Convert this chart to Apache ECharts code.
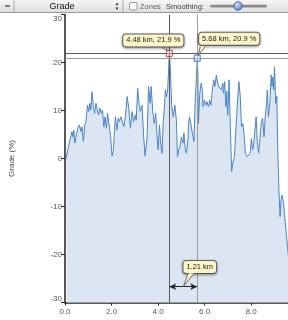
<!DOCTYPE html>
<html>
<head>
<meta charset="utf-8">
<script src="https://cdn.jsdelivr.net/npm/echarts@6/dist/echarts.min.js"></script>
<style>
  html, body { margin: 0; padding: 0; background: #fff; }
  #chart { width: 288px; height: 320px; }
</style>
</head>
<body>
<div id="chart"></div>
<script>
// distance along the route (km) and grade (%)
const km = [
  0.05, 0.08, 0.13, 0.17, 0.22, 0.30, 0.34, 0.38, 0.42, 0.48, 0.55, 0.62, 0.69, 0.73, 0.79, 0.85,
  0.90, 0.97, 1.02, 1.07, 1.11, 1.16, 1.22, 1.27, 1.33, 1.39, 1.44, 1.50, 1.56, 1.61, 1.67, 1.72,
  1.78, 1.83, 1.89, 1.96, 2.02, 2.08, 2.13, 2.17, 2.23, 2.29, 2.34, 2.40, 2.46, 2.53, 2.60, 2.67,
  2.74, 2.81, 2.88, 2.95, 3.02, 3.06, 3.12, 3.19, 3.23, 3.31, 3.38, 3.44, 3.52, 3.59, 3.66, 3.70,
  3.77, 3.83, 3.90, 3.94, 4.00, 4.06, 4.11, 4.17, 4.22, 4.27, 4.31, 4.36, 4.41, 4.45, 4.48, 4.53,
  4.58, 4.65, 4.72, 4.79, 4.83, 4.89, 4.94, 5.00, 5.07, 5.11, 5.17, 5.22, 5.28, 5.31, 5.35, 5.39,
  5.45, 5.50, 5.54, 5.59, 5.64, 5.68, 5.71, 5.73, 5.79, 5.85, 5.89, 5.93, 5.99, 6.05, 6.10, 6.16,
  6.22, 6.27, 6.33, 6.39, 6.44, 6.50, 6.56, 6.61, 6.67, 6.72, 6.78, 6.81, 6.86, 6.91, 6.95, 6.99,
  7.05, 7.11, 7.16, 7.22, 7.28, 7.33, 7.40, 7.47, 7.53, 7.58, 7.64, 7.70, 7.75, 7.83, 7.89, 7.95,
  8.01, 8.06, 8.11, 8.15, 8.21, 8.26, 8.32, 8.38, 8.43, 8.49, 8.55, 8.60, 8.66, 8.69, 8.74, 8.80,
  8.86, 8.89, 8.93, 8.97, 9.00, 9.03, 9.05, 9.10, 9.14, 9.19, 9.24, 9.28, 9.33, 9.39, 9.45, 9.50,
  9.56, 9.62
];
const grade = [
  0.0, 0.4, 2.1, 1.8, 3.9, 5.6, 4.5, 5.9, 3.2, 3.0, 6.3, 7.0, 5.6, 6.6, 3.5, 7.0,
  7.7, 11.1, 9.8, 11.5, 10.1, 13.9, 10.8, 9.4, 11.5, 10.1, 9.1, 10.5, 9.4, 10.1, 6.6, 8.7,
  6.3, 9.4, 9.8, 4.5, 0.5, 1.8, 6.6, 8.7, 5.9, 8.4, 7.7, 8.7, 8.4, 6.6, 9.1, 12.9,
  10.5, 6.3, 9.8, 7.7, 9.1, 8.0, 14.6, 11.1, 9.8, 11.1, 4.5, 0.5, 3.9, 15.0, 11.5, 15.0,
  9.8, 7.3, 9.4, 5.6, 1.8, 7.0, 3.2, 1.1, 7.7, 10.5, 14.3, 12.9, 14.3, 18.4, 21.9, 18.4,
  11.1, 8.7, 11.1, 7.7, 0.4, 1.8, 2.5, 4.5, 3.2, 5.3, 1.8, 1.1, 3.9, 7.3, 8.7, 7.7,
  5.9, 5.6, 3.5, 11.5, 16.4, 20.9, 17.7, 7.3, 13.6, 15.7, 14.6, 10.8, 12.2, 11.1, 11.8, 10.8,
  12.2, 11.1, 14.3, 16.4, 15.0, 17.4, 15.7, 15.0, 15.3, 14.3, 15.7, 13.6, 16.0, 10.8, 14.0, 9.0,
  16.4, 5.3, -2.7, -0.7, 0.4, 5.3, 11.1, 16.0, 12.9, 6.6, 7.3, 4.5, 1.1, 0.4, 0.0, 1.1,
  4.2, 1.8, 3.2, 5.3, 8.7, 3.5, 1.1, 1.4, 7.3, 8.4, 4.5, 8.7, 11.5, 14.3, 8.7, 11.5,
  17.4, 15.0, 17.0, 14.3, 19.1, 15.0, 11.5, 12.9, 1.8, -6.6, -12.1, -8.6, -7.6, -9.3, -12.8, -15.2,
  -18.4, -21.5
];

// the two marked points and the span between them
const markA = [4.48, 21.9];
const markB = [5.68, 20.9];
const spanY = -26.7;
const labelA = '4.48 km, 21.9 %';
const labelB = '5.68 km, 20.9 %';
const spanLabel = '1.21 km';

const xTicks = { min: 0, max: 9.58, interval: 2 };
const yTicks = { min: -30, max: 30, interval: 10 };

const font = 'Liberation Sans, Arial, sans-serif';
const tipBox = {
  show: true,
  fontFamily: font,
  fontSize: 7.5,
  color: '#222',
  backgroundColor: '#fdf5c8',
  borderColor: '#666',
  borderWidth: 1,
  borderRadius: 3,
  padding: [2, 3, 2, 3],
  shadowColor: 'rgba(0,0,0,0.35)',
  shadowBlur: 3,
  shadowOffsetY: 1,
};

const chart = echarts.init(document.getElementById('chart'), null, { renderer: 'canvas' });

const option = {
  animation: false,
  backgroundColor: '#fff',
  grid: { left: 62, right: 0, top: 14.5, bottom: 17.5 },
  xAxis: {
    type: 'value',
    min: xTicks.min,
    max: xTicks.max,
    interval: xTicks.interval,
    axisLine: { onZero: false, lineStyle: { color: '#222', width: 1.5 } },
    axisTick: { show: true, length: 3, lineStyle: { color: '#222' } },
    axisLabel: {
      showMaxLabel: false,
      margin: 5,
      fontFamily: font,
      fontSize: 8,
      color: '#555',
      formatter: (v) => v.toFixed(1),
    },
    splitLine: { show: false },
  },
  yAxis: {
    type: 'value',
    min: yTicks.min,
    max: yTicks.max,
    interval: yTicks.interval,
    name: 'Grade (%)',
    nameLocation: 'middle',
    nameGap: 49,
    nameTextStyle: { fontFamily: font, fontSize: 8, color: '#444' },
    axisLine: { show: true, onZero: false, lineStyle: { color: '#222', width: 1.5 } },
    axisTick: { show: true, length: 4, lineStyle: { color: '#222' } },
    axisLabel: {
      margin: 3,
      fontFamily: font,
      fontSize: 8,
      color: '#555',
      verticalAlignMaxLabel: 'top',
      verticalAlignMinLabel: 'bottom',
    },
    splitLine: { show: false },
  },
  series: [
    {
      type: 'line',
      data: km.map((k, i) => [k, grade[i]]),
      showSymbol: false,
      clip: true,
      lineStyle: { color: '#4a85c6', width: 1 },
      areaStyle: { color: '#dce6f2', origin: 'start', opacity: 1 },
      markLine: {
        silent: true,
        animation: false,
        symbol: ['none', 'none'],
        label: { show: false },
        data: [
          { xAxis: markA[0], lineStyle: { color: '#5a5a5a', width: 1, type: 'solid' } },
          { xAxis: markB[0], lineStyle: { color: '#9a9a9a', width: 1, type: 'solid' } },
          { yAxis: markA[1], lineStyle: { color: '#5a5a5a', width: 1, type: 'solid' } },
          { yAxis: markB[1], lineStyle: { color: '#9a9a9a', width: 1, type: 'solid' } },
          [
            { coord: [markA[0], spanY], symbol: 'arrow', symbolSize: [5, 7] },
            { coord: [markB[0], spanY], symbol: 'arrow', symbolSize: [5, 7],
              lineStyle: { color: '#222', width: 1, type: 'solid' } },
          ],
        ],
      },
      markPoint: {
        silent: true,
        animation: false,
        data: [
          {
            coord: markA,
            symbol: 'rect',
            symbolSize: 6,
            itemStyle: { color: 'rgba(255,255,255,0.3)', borderColor: '#d04040', borderWidth: 1 },
            label: Object.assign({}, tipBox, { formatter: labelA, position: 'top', distance: 2, offset: [-16, -1.5] }),
          },
          {
            coord: markB,
            symbol: 'rect',
            symbolSize: 6,
            itemStyle: { color: 'rgba(255,255,255,0.3)', borderColor: '#3d6fd8', borderWidth: 1 },
            label: Object.assign({}, tipBox, { formatter: labelB, position: 'top', distance: 2, offset: [32, -8] }),
          },
          {
            coord: [(markA[0] + markB[0]) / 2, spanY],
            symbol: 'circle',
            symbolSize: 0.1,
            itemStyle: { color: 'transparent' },
            label: Object.assign({}, tipBox, { formatter: spanLabel, position: 'top', distance: 0, offset: [16.5, -13.5] }),
          },
        ],
      },
    },
  ],
  graphic: [
    // toolbar across the top
    {
      type: 'rect', id: 'bar', z: 100,
      shape: { x: 0, y: 0, width: 288, height: 12.5 },
      style: {
        fill: new echarts.graphic.LinearGradient(0, 0, 0, 1, [
          { offset: 0, color: '#f6f6f6' }, { offset: 1, color: '#dedede' },
        ]),
      },
    },
    { type: 'line', id: 'barEdge', z: 101, shape: { x1: 0, y1: 12.5, x2: 288, y2: 12.5 }, style: { stroke: '#999', lineWidth: 1 } },
    { type: 'line', id: 'sep1', z: 101, shape: { x1: 14, y1: 0, x2: 14, y2: 12.5 }, style: { stroke: '#aaa', lineWidth: 1 } },
    { type: 'line', id: 'sep2', z: 101, shape: { x1: 123, y1: 0, x2: 123, y2: 12.5 }, style: { stroke: '#aaa', lineWidth: 1 } },
    { type: 'line', id: 'minus', z: 101, shape: { x1: 5, y1: 6, x2: 10, y2: 6 }, style: { stroke: '#333', lineWidth: 1.2 } },
    {
      type: 'text', id: 'gradeSel', z: 101, x: 62, y: 6.5,
      style: { text: 'Grade', font: '9px ' + font, fill: '#111', align: 'center', verticalAlign: 'middle' },
    },
    { type: 'polygon', id: 'up', z: 101, shape: { points: [[115.5, 5], [118.5, 5], [117, 2.5]] }, style: { fill: '#333' } },
    { type: 'polygon', id: 'down', z: 101, shape: { points: [[115.5, 7.5], [118.5, 7.5], [117, 10]] }, style: { fill: '#333' } },
    {
      type: 'rect', id: 'check', z: 101,
      shape: { x: 129.5, y: 2.5, width: 7.5, height: 7.5, r: 1 },
      style: { fill: '#fafafa', stroke: '#999', lineWidth: 1 },
    },
    {
      type: 'text', id: 'zones', z: 101, x: 140, y: 6.5,
      style: { text: 'Zones', font: '7.5px ' + font, fill: '#666', verticalAlign: 'middle' },
    },
    {
      type: 'text', id: 'smooth', z: 101, x: 166, y: 6.5,
      style: { text: 'Smoothing:', font: '7.5px ' + font, fill: '#444', verticalAlign: 'middle' },
    },
    {
      type: 'rect', id: 'track', z: 101,
      shape: { x: 210, y: 4.8, width: 57, height: 2.6, r: 1.3 },
      style: { fill: '#8a8a8a' },
    },
    {
      type: 'circle', id: 'knob', z: 102,
      shape: { cx: 238, cy: 6, r: 4.3 },
      style: {
        fill: new echarts.graphic.RadialGradient(0.4, 0.35, 0.7, [
          { offset: 0, color: '#cfe0f7' }, { offset: 1, color: '#3f78cc' },
        ]),
        stroke: '#4a5f80', lineWidth: 0.8,
      },
    },
  ],
};

chart.setOption(option);

// little callout tails pointing from the boxes to their anchors
const pA = chart.convertToPixel({ gridIndex: 0 }, markA);
const pB = chart.convertToPixel({ gridIndex: 0 }, markB);
const pS = chart.convertToPixel({ gridIndex: 0 }, [(markA[0] + markB[0]) / 2, spanY]);

function tail(id, tip, base1, base2) {
  return [
    { type: 'polygon', id: id + 'f', z: 50, shape: { points: [base1, base2, tip] }, style: { fill: '#fdf5c8' } },
    { type: 'polyline', id: id + 's', z: 51, shape: { points: [base1, tip, base2] }, style: { stroke: '#666', lineWidth: 1, fill: null } },
  ];
}

chart.setOption({
  graphic: [].concat(
    tail('tA', [pA[0] - 2, pA[1] - 3], [pA[0] - 7, pA[1] - 5.5], [pA[0] - 3, pA[1] - 5.5]),
    tail('tB', [pB[0] + 1, pB[1] - 3], [pB[0] + 3, pB[1] - 11.5], [pB[0] + 8, pB[1] - 11.5]),
    tail('tS', [pS[0], pS[1]], [pS[0] + 5, pS[1] - 13.5], [pS[0] + 11, pS[1] - 13.5])
  ),
});
</script>
</body>
</html>
